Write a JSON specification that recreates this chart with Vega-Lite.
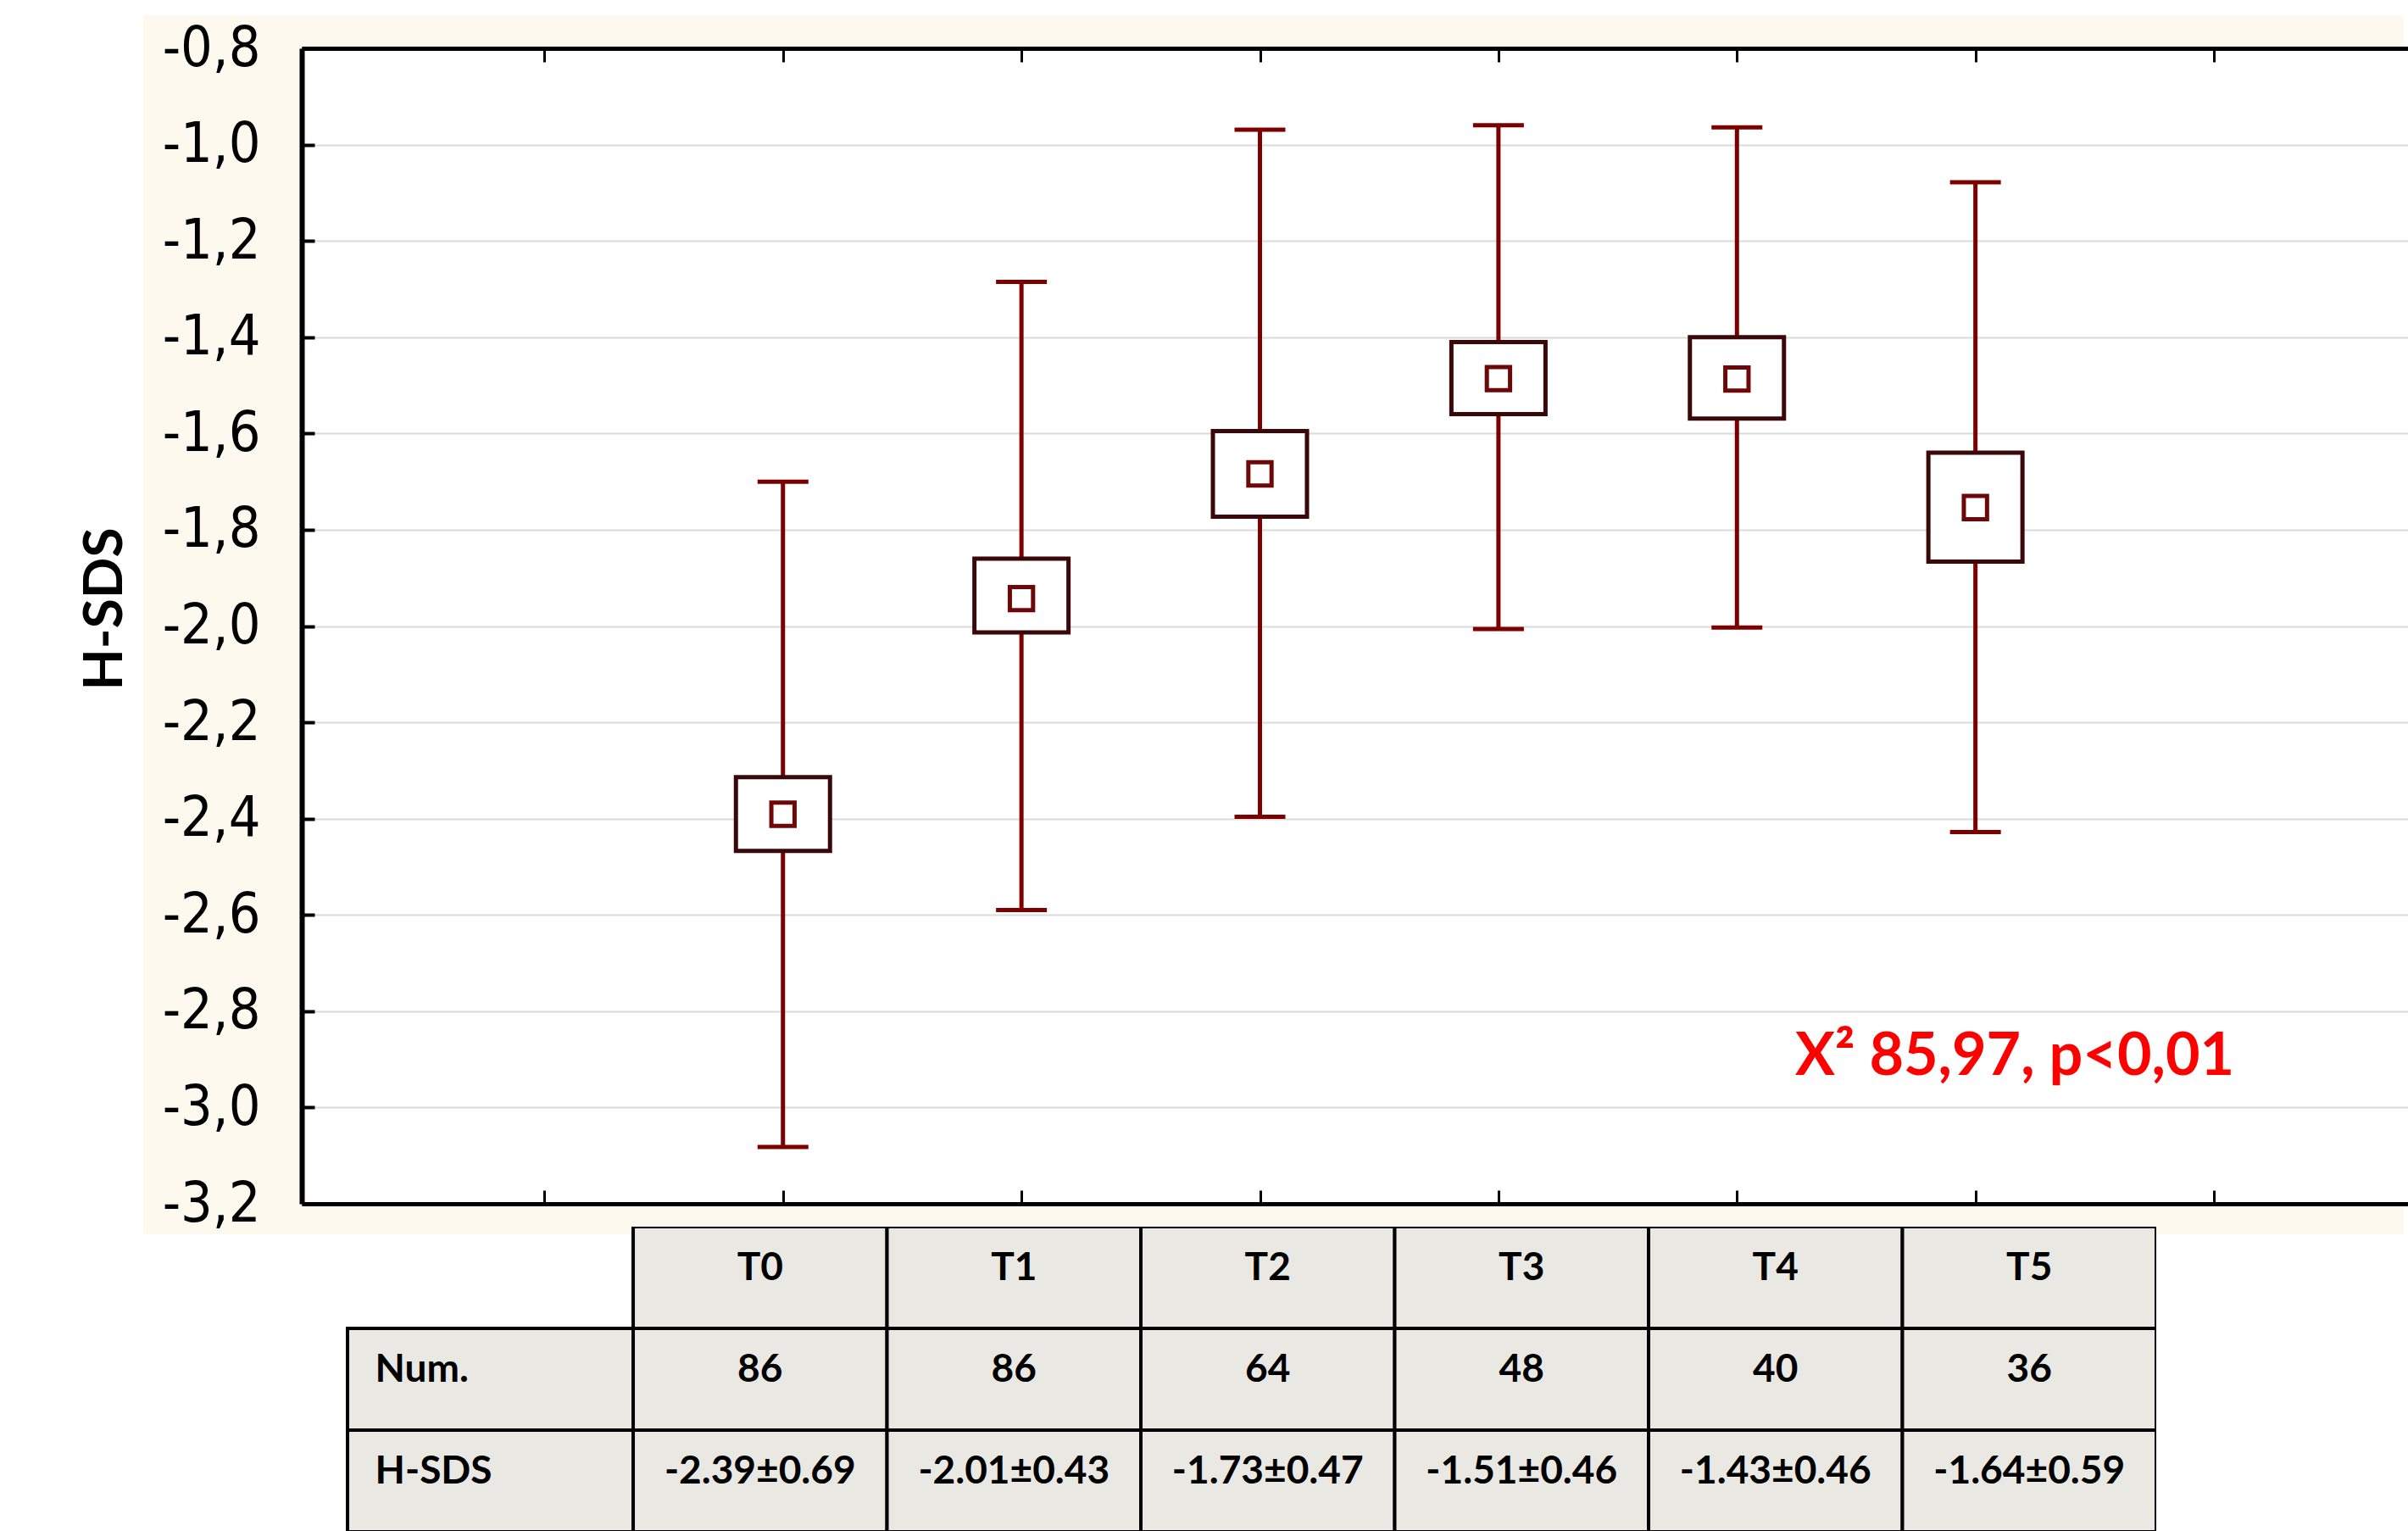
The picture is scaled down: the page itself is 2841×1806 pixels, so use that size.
{
  "$schema": "https://vega.github.io/schema/vega-lite/v6.json",
  "background": "white",
  "padding": {"left": 92, "top": 17, "right": 0, "bottom": 0},
  "autosize": {"type": "pad"},
  "bounds": "flush",
  "spacing": 27,
  "config": {"view": {"stroke": null}},
  "vconcat": [
    {
      "width": 2485,
      "height": 1363,
      "data": {"values": [
        {"t": "T0", "pos": 2, "mean": -2.391, "lo": -3.082, "hi": -1.700, "boxLo": -2.467, "boxHi": -2.314},
        {"t": "T1", "pos": 3, "mean": -1.943, "lo": -2.590, "hi": -1.285, "boxLo": -2.013, "boxHi": -1.860},
        {"t": "T2", "pos": 4, "mean": -1.684, "lo": -2.396, "hi": -0.969, "boxLo": -1.773, "boxHi": -1.595},
        {"t": "T3", "pos": 5, "mean": -1.486, "lo": -2.006, "hi": -0.960, "boxLo": -1.560, "boxHi": -1.410},
        {"t": "T4", "pos": 6, "mean": -1.487, "lo": -2.003, "hi": -0.964, "boxLo": -1.569, "boxHi": -1.400},
        {"t": "T5", "pos": 7, "mean": -1.754, "lo": -2.428, "hi": -1.078, "boxLo": -1.866, "boxHi": -1.640}
      ]},
      "resolve": {"axis": {"x": "independent", "y": "independent"}},
      "layer": [
        {
          "data": {"values": [{}]},
          "mark": {"type": "rect", "color": "#fdf9ee"},
          "encoding": {
            "x": {"datum": -0.6832, "type": "quantitative", "scale": {"domain": [0, 8.796], "nice": false, "zero": false}, "axis": null},
            "x2": {"datum": 0},
            "y": {"datum": -0.7313, "type": "quantitative", "scale": {"domain": [-3.2, -0.8], "nice": false, "zero": false}, "axis": null},
            "y2": {"datum": -3.2635}
          }
        },
        {
          "data": {"values": [{}]},
          "mark": {"type": "rect", "color": "#fdf9ee"},
          "encoding": {
            "x": {"datum": 0, "type": "quantitative", "scale": {"domain": [0, 8.796], "nice": false, "zero": false}, "axis": null},
            "x2": {"datum": 8.796},
            "y": {"datum": -0.7313, "type": "quantitative", "scale": {"domain": [-3.2, -0.8], "nice": false, "zero": false}, "axis": null},
            "y2": {"datum": -0.8}
          }
        },
        {
          "data": {"values": [{}]},
          "mark": {"type": "rect", "color": "#fdf9ee"},
          "encoding": {
            "x": {"datum": 0, "type": "quantitative", "scale": {"domain": [0, 8.796], "nice": false, "zero": false}, "axis": null},
            "x2": {"datum": 8.796},
            "y": {"datum": -3.2, "type": "quantitative", "scale": {"domain": [-3.2, -0.8], "nice": false, "zero": false}, "axis": null},
            "y2": {"datum": -3.2635}
          }
        },
        {
          "mark": {"type": "rule", "color": "#7d0000", "strokeWidth": 5},
          "encoding": {
            "x": {"field": "pos", "type": "quantitative", "scale": {"domain": [0, 8.796], "nice": false, "zero": false},
              "axis": {"orient": "bottom", "values": [1, 2, 3, 4, 5, 6, 7, 8], "labels": false, "ticks": true, "tickSize": -16, "tickWidth": 3, "tickColor": "#000000", "domain": true, "domainColor": "#000000", "domainWidth": 5, "grid": false, "title": null, "zindex": 1}},
            "y": {"field": "lo", "type": "quantitative", "scale": {"domain": [-3.2, -0.8], "nice": false, "zero": false},
              "axis": {"orient": "left", "values": [-3.2, -3.0, -2.8, -2.6, -2.4, -2.2, -2.0, -1.8, -1.6, -1.4, -1.2, -1.0, -0.8],
                "labelExpr": "'-' + replace(format(-datum.value, '.1f'), '.', ',')",
                "labelFont": "Liberation Sans Narrow, Arial Narrow, DejaVu Sans Condensed, sans-serif", "labelFontSize": 66, "labelColor": "#000000",
                "labelPadding": 64, "labelFlush": false, "labelOverlap": false, "labelBound": false,
                "tickSize": -15, "tickWidth": 4, "tickColor": "#000000", "domainColor": "#000000", "domainWidth": 6, "grid": false,
                "title": "H-SDS", "titleFont": "Lato", "titleFontWeight": "bold", "titleFontSize": 64, "titleColor": "#000000", "titlePadding": 35, "titleY": 661, "zindex": 1}},
            "y2": {"field": "hi"}
          }
        },
        {
          "mark": {"type": "tick", "orient": "horizontal", "size": 60, "thickness": 5, "color": "#7d0000", "opacity": 1},
          "encoding": {
            "x": {"field": "pos", "type": "quantitative", "scale": {"domain": [0, 8.796], "nice": false, "zero": false}, "axis": null},
            "y": {"field": "hi", "type": "quantitative", "scale": {"domain": [-3.2, -0.8], "nice": false, "zero": false}, "axis": null}
          }
        },
        {
          "mark": {"type": "tick", "orient": "horizontal", "size": 60, "thickness": 5, "color": "#7d0000", "opacity": 1},
          "encoding": {
            "x": {"field": "pos", "type": "quantitative", "scale": {"domain": [0, 8.796], "nice": false, "zero": false}, "axis": null},
            "y": {"field": "lo", "type": "quantitative", "scale": {"domain": [-3.2, -0.8], "nice": false, "zero": false}, "axis": null}
          }
        },
        {
          "mark": {"type": "bar", "orient": "vertical", "size": 111, "fill": "#ffffff", "stroke": "#3a0808", "strokeWidth": 5},
          "encoding": {
            "x": {"field": "pos", "type": "quantitative", "scale": {"domain": [0, 8.796], "nice": false, "zero": false},
              "axis": {"orient": "top", "values": [1, 2, 3, 4, 5, 6, 7, 8], "labels": false, "ticks": true, "tickSize": -16, "tickWidth": 3, "tickColor": "#000000", "domain": true, "domainColor": "#000000", "domainWidth": 5, "grid": false, "title": null, "zindex": 1}},
            "y": {"field": "boxLo", "type": "quantitative", "scale": {"domain": [-3.2, -0.8], "nice": false, "zero": false},
              "axis": {"orient": "right", "values": [-3.0, -2.8, -2.6, -2.4, -2.2, -2.0, -1.8, -1.6, -1.4, -1.2, -1.0], "grid": true, "gridColor": "#dadada", "gridWidth": 2, "labels": false, "ticks": false, "domain": false, "title": null, "zindex": 0}},
            "y2": {"field": "boxHi"}
          }
        },
        {
          "mark": {"type": "point", "shape": "square", "size": 750, "filled": false, "stroke": "#6e0808", "strokeWidth": 5, "opacity": 1},
          "encoding": {
            "x": {"field": "pos", "type": "quantitative", "scale": {"domain": [0, 8.796], "nice": false, "zero": false}, "axis": null},
            "y": {"field": "mean", "type": "quantitative", "scale": {"domain": [-3.2, -0.8], "nice": false, "zero": false}, "axis": null}
          }
        },
        {
          "data": {"values": [{"label": "X² 85,97, p<0,01"}]},
          "mark": {"type": "text", "font": "Lato", "fontWeight": "bold", "fontSize": 70, "color": "#ff0000", "align": "center", "baseline": "alphabetic"},
          "encoding": {
            "x": {"datum": 7.165, "type": "quantitative", "scale": {"domain": [0, 8.796], "nice": false, "zero": false}, "axis": null},
            "y": {"datum": -2.932, "type": "quantitative", "scale": {"domain": [-3.2, -0.8], "nice": false, "zero": false}, "axis": null},
            "text": {"field": "label"}
          }
        }
      ]
    },
    {
      "width": 2188,
      "height": 360,
      "data": {"values": [
        {"row": "hdr", "col": "T0", "text": "T0"},
        {"row": "hdr", "col": "T1", "text": "T1"},
        {"row": "hdr", "col": "T2", "text": "T2"},
        {"row": "hdr", "col": "T3", "text": "T3"},
        {"row": "hdr", "col": "T4", "text": "T4"},
        {"row": "hdr", "col": "T5", "text": "T5"},
        {"row": "num", "col": "lab", "text": "Num."},
        {"row": "num", "col": "T0", "text": "86"},
        {"row": "num", "col": "T1", "text": "86"},
        {"row": "num", "col": "T2", "text": "64"},
        {"row": "num", "col": "T3", "text": "48"},
        {"row": "num", "col": "T4", "text": "40"},
        {"row": "num", "col": "T5", "text": "36"},
        {"row": "hsds", "col": "lab", "text": "H-SDS"},
        {"row": "hsds", "col": "T0", "text": "-2.39±0.69"},
        {"row": "hsds", "col": "T1", "text": "-2.01±0.43"},
        {"row": "hsds", "col": "T2", "text": "-1.73±0.47"},
        {"row": "hsds", "col": "T3", "text": "-1.51±0.46"},
        {"row": "hsds", "col": "T4", "text": "-1.43±0.46"},
        {"row": "hsds", "col": "T5", "text": "-1.64±0.59"}
      ]},
      "encoding": {
        "x": {"field": "col", "type": "nominal", "scale": {"domain": ["lab", "T0", "T1", "T2", "T3", "T4", "T5"], "paddingInner": 0, "paddingOuter": 0.1528, "align": 1}, "axis": null},
        "y": {"field": "row", "type": "nominal", "scale": {"domain": ["hdr", "num", "hsds"], "paddingInner": 0, "paddingOuter": -0.0484, "align": 0}, "axis": null}
      },
      "layer": [
        {
          "transform": [{"filter": "datum.col != 'lab'"}],
          "mark": {"type": "rect", "fill": "#eae8e3", "stroke": "#000000", "strokeWidth": 4, "clip": true}
        },
        {
          "transform": [{"filter": "datum.col == 'lab'"}],
          "mark": {"type": "rect", "fill": "#eae8e3", "stroke": "#000000", "strokeWidth": 4, "clip": true, "xOffset": -187.25, "x2Offset": -149.75},
          "encoding": {"x2": {"datum": "T0"}}
        },
        {
          "transform": [{"filter": "datum.col != 'lab'"}],
          "mark": {"type": "text", "font": "Lato", "fontWeight": "bold", "fontSize": 46, "color": "#000000", "align": "center", "baseline": "middle", "dy": -11},
          "encoding": {"text": {"field": "text"}}
        },
        {
          "transform": [{"filter": "datum.col == 'lab'"}],
          "mark": {"type": "text", "font": "Lato", "fontWeight": "bold", "fontSize": 46, "color": "#000000", "align": "left", "baseline": "middle", "dy": -11, "dx": -5},
          "encoding": {
            "x": {"field": "col", "type": "nominal", "bandPosition": 0, "axis": null},
            "text": {"field": "text"}
          }
        }
      ]
    }
  ]
}
